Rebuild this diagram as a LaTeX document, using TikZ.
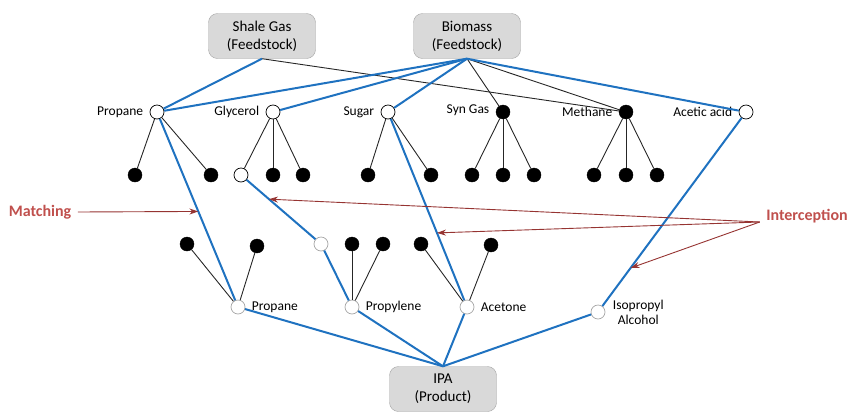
\documentclass[tikz,border=0pt]{standalone}
\usepackage{fontspec}
\setmainfont{Carlito}
\usetikzlibrary{arrows.meta,positioning,calc}
\definecolor{lineblue}{RGB}{31,114,192}
\definecolor{boxgray}{RGB}{217,217,217}
\definecolor{boxedge}{RGB}{165,165,165}
\definecolor{notered}{RGB}{192,80,77}
\definecolor{arrowred}{RGB}{150,52,50}

\begin{document}
\begin{tikzpicture}[x=1pt,y=-1pt,
    every node/.style={font=\fontsize{13.5}{15}\selectfont},
    feed/.style={draw=boxedge,fill=boxgray,rounded corners=9pt,minimum width=107pt,
      minimum height=45pt,align=center,font=\fontsize{15}{18}\selectfont},
    opn/.style={circle,draw=black,fill=white,minimum size=14pt,inner sep=0pt,line width=0.7pt},
    opg/.style={opn,draw=gray!70},
    cls/.style={circle,draw=black,fill=black,minimum size=14pt,inner sep=0pt},
    route/.style={draw=lineblue,line width=2pt},
    link/.style={draw=black!85,line width=0.9pt},
    note/.style={text=notered,font=\bfseries\fontsize{16}{19}\selectfont},
    pointer/.style={draw=arrowred,line width=0.9pt,-{Stealth[length=9pt,width=6pt]}},
    label distance=3pt
  ]
  \useasboundingbox (0,0) rectangle (851,413);

  % feedstocks and product
  \node[feed] (shale) at (262,36) {Shale Gas\\(Feedstock)};
  \node[feed] (bio) at (467,36) {Biomass\\(Feedstock)};
  \node[feed] (ipa) at (443,389) {IPA\\(Product)};

  % intermediates
  \node[opn,label=left:Propane] (prop) at (157,112) {};
  \node[opn,label=left:Glycerol] (glyc) at (273,112) {};
  \node[opn,label=left:Sugar] (sugar) at (388,112) {};
  \node[cls,label={[yshift=2pt]left:Syn Gas}] (syn) at (503,112) {};
  \node[cls,label=left:Methane] (meth) at (626,112) {};
  \node[opn,label=left:Acetic acid] (acet) at (746,112) {};

  \node[cls] (pc1) at (135,175) {};
  \node[cls] (pc2) at (211,175) {};
  \node[opn] (gc1) at (241,175) {};
  \node[cls] (gc2) at (273,175) {};
  \node[cls] (gc3) at (303,175) {};
  \node[cls] (sc1) at (368,175) {};
  \node[cls] (sc2) at (431,175) {};
  \foreach \x [count=\i] in {472,503,534} \node[cls] (yc\i) at (\x,175) {};
  \foreach \x [count=\i] in {594,626,657} \node[cls] (mc\i) at (\x,175) {};

  \node[cls] (ba1) at (187,244) {};
  \node[cls] (ba2) at (257,246) {};
  \node[opg] (bb1) at (321,244) {};
  \node[cls] (bb2) at (352,244) {};
  \node[cls] (bb3) at (383,244) {};
  \node[cls] (bc1) at (421,244) {};
  \node[cls] (bc2) at (491,245) {};

  % products
  \node[opg,label=right:Propane] (propb) at (238,307) {};
  \node[opg,label=right:Propylene] (propy) at (352,307) {};
  \node[opg,label=right:Acetone] (acetn) at (467,307) {};
  \node[opg,label={[align=center,label distance=4pt]right:{Isopropyl\\Alcohol}}] (isoa) at (598,312) {};

  % black links
  \draw[link] (shale.south) -- (meth);
  \draw[link] (bio.south) -- (syn);
  \draw[link] (bio.south) -- (meth);
  \foreach \c in {pc1,pc2} \draw[link] (prop) -- (\c);
  \foreach \c in {gc1,gc2,gc3} \draw[link] (glyc) -- (\c);
  \foreach \c in {sc1,sc2} \draw[link] (sugar) -- (\c);
  \foreach \c in {yc1,yc2,yc3} \draw[link] (syn) -- (\c);
  \foreach \c in {mc1,mc2,mc3} \draw[link] (meth) -- (\c);
  \foreach \c in {ba1,ba2} \draw[link] (\c) -- (propb);
  \foreach \c in {bb2,bb3} \draw[link] (\c) -- (propy);
  \foreach \c in {bc1,bc2} \draw[link] (\c) -- (acetn);

  % blue routes
  \draw[route] (shale.south) -- (prop);
  \draw[route] (bio.south) -- (prop);
  \draw[route] (bio.south) -- (glyc);
  \draw[route] (bio.south) -- (sugar);
  \draw[route] (bio.south) -- (acet);
  \draw[route] (prop) -- (propb);
  \draw[route] (gc1) -- (bb1);
  \draw[route] (bb1) -- (propy);
  \draw[route] (sugar) -- (acetn);
  \draw[route] (acet) -- (isoa);
  \foreach \c in {propb,propy,acetn,isoa} \draw[route] (\c) -- (ipa.north);

  % annotations
  \node[note] (match) at (40,212) {Matching};
  \node[note] (icp) at (807,216) {Interception};
  \coordinate (mt) at ($(prop)!0.51!(propb)$);
  \coordinate (it1) at ($(gc1)!0.35!(bb1)$);
  \coordinate (it2) at ($(sugar)!0.62!(acetn)$);
  \coordinate (it3) at ($(acet)!0.78!(isoa)$);
  \coordinate (icps) at ([xshift=-3pt,yshift=-6pt]icp.west);
  \draw[pointer] ([xshift=3pt]match.east) -- (mt);
  \draw[pointer] (icps) -- (it1);
  \draw[pointer] (icps) -- (it2);
  \draw[pointer] (icps) -- (it3);
\end{tikzpicture}
\end{document}
